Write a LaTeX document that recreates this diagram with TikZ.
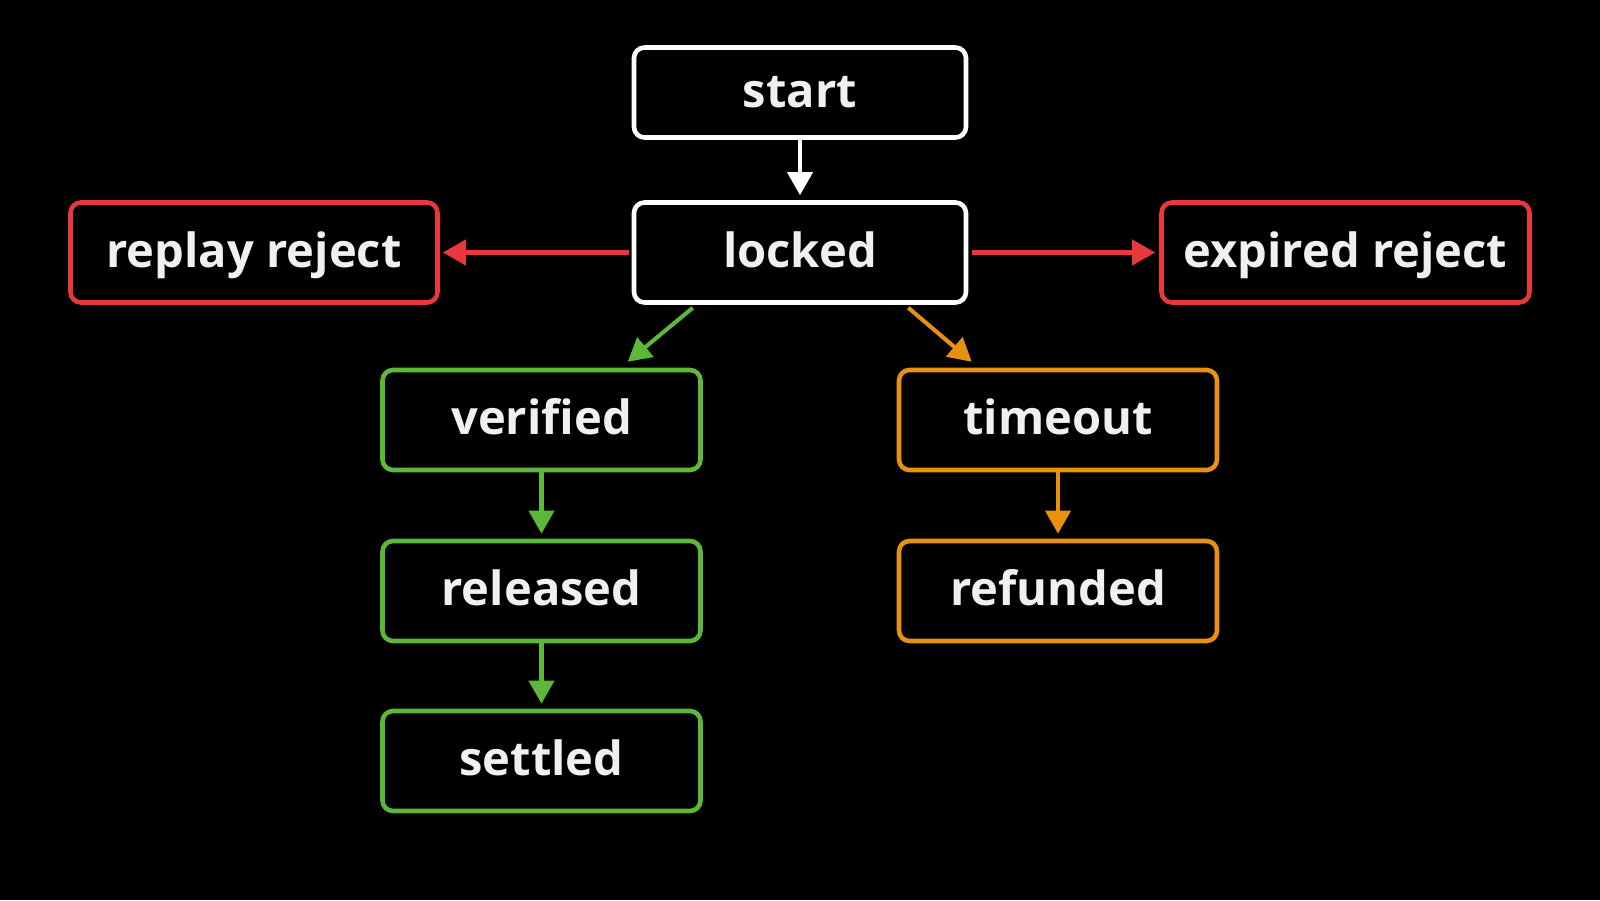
\documentclass[tikz,border=0pt]{standalone}
\usepackage{fontspec}
\setmainfont{Open Sans}
\usetikzlibrary{arrows.meta}

\definecolor{okgreen}{HTML}{5DB83A}
\definecolor{badred}{HTML}{E8383D}
\definecolor{waitorange}{HTML}{E8900F}

\begin{document}
\begin{tikzpicture}[
  font=\fontsize{13.4}{16}\selectfont\bfseries,
  state/.style={draw=white,line width=1.3pt,rounded corners=3pt,fill=black,
                text=white!94!black,minimum height=1.0cm,inner sep=0pt,
                text height=0.9em,text depth=0.06em},
  wide/.style={state,minimum width=3.32cm},
  narrow/.style={state,minimum width=3.18cm},
  edge/.style={line width=1.15pt,-{Triangle[width=0.25cm,length=0.23cm]}}
]

% ---- canvas ----
\fill[black] (0,0) rectangle (16,9);
\useasboundingbox (0,0) rectangle (16,9);

% ---- main line ----
\node[wide,minimum height=0.9cm] (start)  at (8.0,8.075) {start};
\node[wide]                      (locked) at (8.0,6.475) {locked};

% ---- rejects ----
\node[state,draw=badred,minimum width=3.67cm] (replay)  at (2.54,6.475)  {replay reject};
\node[state,draw=badred,minimum width=3.68cm] (expired) at (13.455,6.475) {expired reject};

% ---- happy path ----
\node[narrow,draw=okgreen] (verified) at (5.415,4.80) {verified};
\node[narrow,draw=okgreen] (released) at (5.415,3.09) {released};
\node[narrow,draw=okgreen] (settled)  at (5.415,1.39) {settled};

% ---- timeout path ----
\node[narrow,draw=waitorange] (timeout)  at (10.58,4.80) {timeout};
\node[narrow,draw=waitorange] (refunded) at (10.58,3.09) {refunded};

% ---- arrows ----
\draw[edge,white,shorten >=0.05cm] (start) -- (locked);
\draw[edge,badred,shorten <=0.03cm,shorten >=0.03cm] (locked.west) -- (replay.east);
\draw[edge,badred,shorten <=0.04cm,shorten >=0.04cm] (locked.east) -- (expired.west);
\draw[edge,okgreen] ([xshift=0.61cm,yshift=-0.03cm]locked.south west)
  -- ([xshift=-0.75cm,yshift=0.06cm]verified.north east);
\draw[edge,waitorange] ([xshift=-0.60cm,yshift=-0.03cm]locked.south east)
  -- ([xshift=0.75cm,yshift=0.06cm]timeout.north west);
\draw[edge,okgreen,shorten >=0.05cm] (verified) -- (released);
\draw[edge,okgreen,shorten >=0.05cm] (released) -- (settled);
\draw[edge,waitorange,shorten >=0.05cm] (timeout) -- (refunded);

\end{tikzpicture}
\end{document}
